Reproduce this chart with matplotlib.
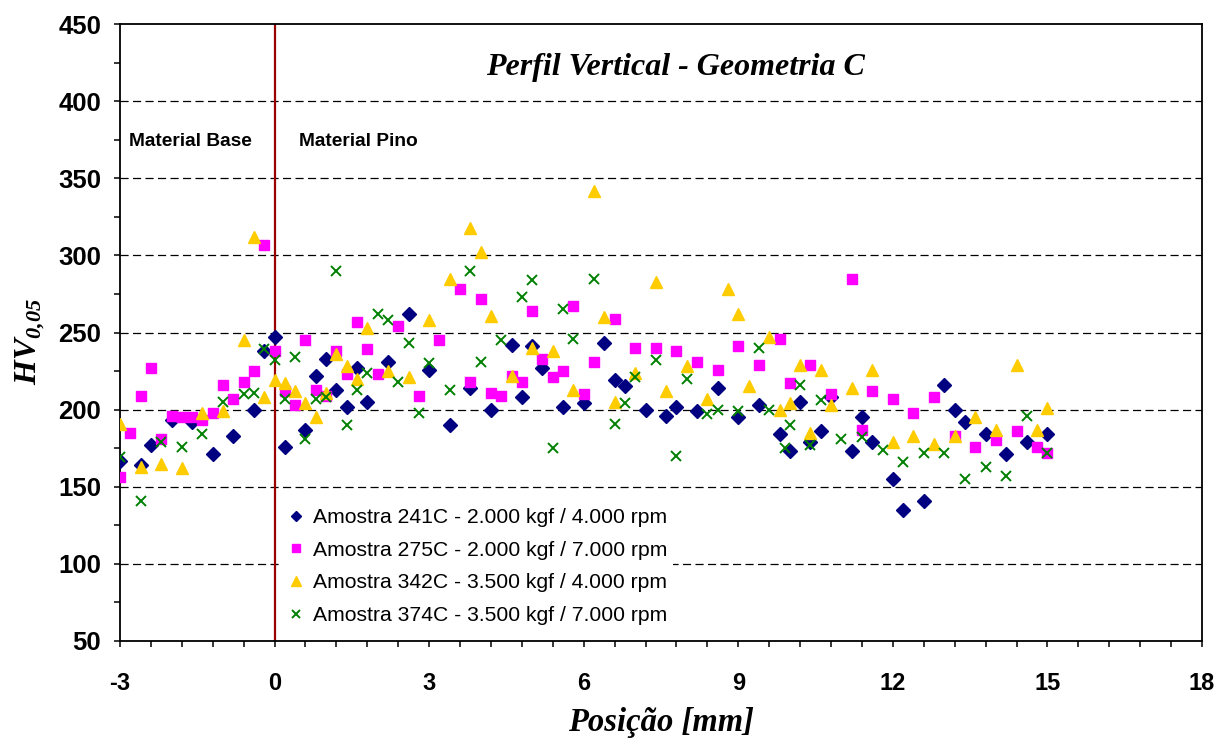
import numpy as np
import matplotlib.pyplot as plt
from matplotlib.ticker import MultipleLocator

plt.rcParams['font.family'] = ['Liberation Sans', 'DejaVu Sans']
plt.rcParams['axes.unicode_minus'] = False
plt.rcParams['mathtext.fontset'] = 'custom'
plt.rcParams['mathtext.bfit'] = 'Liberation Serif:bold:italic'
plt.rcParams['mathtext.rm'] = 'Liberation Serif'

# Amostra 241C - 2.000 kgf / 4.000 rpm
x_241 = [-3.0, -2.6, -2.4, -2.0, -1.6, -1.2, -0.8, -0.4, -0.2, 0.0, 0.2, 0.6, 0.8, 1.0, 1.2, 1.4,
         1.6, 1.8, 2.2, 2.6, 3.0, 3.4, 3.8, 4.2, 4.6, 4.8, 5.0, 5.2, 5.6, 6.0, 6.4, 6.6, 6.8,
         7.2, 7.6, 7.8, 8.2, 8.6, 9.0, 9.4, 9.8, 10.0, 10.2, 10.4, 10.6, 10.8, 11.2, 11.4, 11.6,
         12.0, 12.2, 12.6, 13.0, 13.2, 13.4, 13.8, 14.2, 14.6, 15.0]
hv_241 = [167, 164, 177, 193, 192, 171, 183, 200, 238, 247, 176, 187, 222, 233, 213, 202,
          227, 205, 231, 262, 226, 190, 214, 200, 242, 208, 241, 227, 202, 204, 243, 219, 215,
          200, 196, 202, 199, 214, 195, 203, 184, 173, 205, 179, 186, 208, 173, 195, 179,
          155, 135, 141, 216, 200, 192, 184, 171, 179, 184]

# Amostra 275C - 2.000 kgf / 7.000 rpm
x_275 = [-3.0, -2.8, -2.6, -2.4, -2.2, -2.0, -1.8, -1.6, -1.4, -1.2, -1.0, -0.8, -0.6, -0.4, -0.2,
         0.0, 0.2, 0.4, 0.6, 0.8, 1.0, 1.2, 1.4, 1.6, 1.8, 2.0, 2.4, 2.8, 3.2, 3.6, 3.8, 4.0,
         4.2, 4.4, 4.6, 4.8, 5.0, 5.2, 5.4, 5.6, 5.8, 6.0, 6.2, 6.6, 7.0, 7.4, 7.8, 8.2, 8.6,
         9.0, 9.4, 9.8, 10.0, 10.4, 10.8, 11.2, 11.4, 11.6, 12.0, 12.4, 12.8, 13.2, 13.6, 14.0,
         14.4, 14.8, 15.0]
hv_275 = [156, 185, 209, 227, 181, 196, 195, 195, 193, 198, 216, 207, 218, 225, 307,
          238, 212, 203, 245, 213, 209, 238, 223, 257, 239, 223, 254, 209, 245, 278, 218, 272,
          211, 209, 222, 218, 264, 233, 221, 225, 267, 210, 231, 259, 240, 240, 238, 231, 226,
          241, 229, 246, 217, 229, 210, 285, 187, 212, 207, 198, 208, 183, 176, 180,
          186, 176, 172]

# Amostra 342C - 3.500 kgf / 4.000 rpm
x_342 = [-3.0, -2.6, -2.2, -1.8, -1.4, -1.0, -0.6, -0.4, -0.2, 0.0, 0.2, 0.4, 0.6, 0.8, 1.0, 1.2,
         1.4, 1.6, 1.8, 2.2, 2.6, 3.0, 3.4, 3.8, 4.0, 4.2, 4.6, 5.0, 5.4, 5.8, 6.2, 6.4, 6.6,
         7.0, 7.4, 7.6, 8.0, 8.4, 8.8, 9.0, 9.2, 9.6, 9.8, 10.0, 10.2, 10.4, 10.6, 10.8, 11.2,
         11.6, 12.0, 12.4, 12.8, 13.2, 13.6, 14.0, 14.4, 14.8, 15.0]
hv_342 = [191, 163, 165, 162, 198, 199, 245, 312, 208, 219, 217, 212, 204, 195, 211, 236,
          228, 220, 253, 225, 221, 258, 285, 318, 302, 261, 222, 240, 238, 213, 342, 260, 205,
          224, 283, 212, 228, 207, 278, 262, 215, 247, 200, 204, 229, 185, 226, 203, 214,
          226, 179, 183, 178, 183, 195, 187, 229, 187, 201]

# Amostra 374C - 3.500 kgf / 7.000 rpm
x_374 = [-3.0, -2.6, -2.2, -1.8, -1.4, -1.0, -0.6, -0.4, -0.2, 0.0, 0.2, 0.4, 0.6, 0.8, 1.0, 1.2,
         1.4, 1.6, 1.8, 2.0, 2.2, 2.4, 2.6, 2.8, 3.0, 3.4, 3.8, 4.0, 4.4, 4.8, 5.0, 5.4, 5.6,
         5.8, 6.2, 6.6, 6.8, 7.0, 7.4, 7.8, 8.0, 8.4, 8.6, 9.0, 9.4, 9.6, 9.9, 10.0, 10.2, 10.4,
         10.6, 11.0, 11.4, 11.8, 12.2, 12.6, 13.0, 13.4, 13.8, 14.2, 14.6, 15.0]
hv_374 = [169, 141, 179, 176, 184, 205, 210, 211, 239, 232, 207, 234, 181, 207, 208, 290,
          190, 213, 224, 262, 258, 218, 243, 198, 230, 213, 290, 231, 245, 273, 284, 175, 265,
          246, 285, 191, 204, 221, 232, 170, 220, 197, 200, 199, 240, 200, 175, 190, 216, 177,
          206, 181, 182, 174, 166, 172, 172, 155, 163, 157, 196, 172]

labels = ['Amostra 241C - 2.000 kgf / 4.000 rpm',
          'Amostra 275C - 2.000 kgf / 7.000 rpm',
          'Amostra 342C - 3.500 kgf / 4.000 rpm',
          'Amostra 374C - 3.500 kgf / 7.000 rpm']

fig = plt.figure(figsize=(12.22, 7.45), dpi=100)
ax = fig.add_axes([120 / 1222, 1 - 641 / 745, 1082 / 1222, 617 / 745])

# horizontal dashed grid
for yv in range(100, 450, 50):
    ax.axhline(yv, color='black', lw=0.9, ls=(0, (6.5, 3.5)), zorder=1)

# interface line at x = 0
ax.axvline(0, color='#990000', lw=1.6, zorder=2)

ax.plot(x_241, hv_241, ls='none', marker='D', ms=7, color='#000080', mec='#000080', label=labels[0], zorder=3)
ax.plot(x_275, hv_275, ls='none', marker='s', ms=7, color='#FF00FF', mec='#FF00FF', label=labels[1], zorder=3)
ax.plot(x_342, hv_342, ls='none', marker='^', ms=8.5, color='#FFCC00', mec='#FFCC00', label=labels[2], zorder=3)
ax.plot(x_374, hv_374, ls='none', marker='x', ms=7.5, mew=1.4, color='#008000', label=labels[3], zorder=3)

ax.set_xlim(-3, 18)
ax.set_ylim(50, 450)
ax.xaxis.set_major_locator(MultipleLocator(3))
ax.xaxis.set_minor_locator(MultipleLocator(0.6))
ax.yaxis.set_major_locator(MultipleLocator(50))
ax.yaxis.set_minor_locator(MultipleLocator(25))
ax.tick_params(which='both', direction='out', length=4.5, width=1.1, color='black')
ax.tick_params(axis='y', which='major', pad=9, labelsize=18.5)
ax.tick_params(axis='x', which='major', pad=18, labelsize=17)
for lab in ax.get_xticklabels() + ax.get_yticklabels():
    lab.set_fontweight('bold')
for sp in ax.spines.values():
    sp.set_linewidth(1.3)

ax.text(0.513, 0.929, 'Perfil Vertical - Geometria C', transform=ax.transAxes,
        ha='center', va='center', fontsize=23, family='Liberation Serif',
        fontweight='bold', fontstyle='italic')
ax.text(-2.82, 374, 'Material Base', ha='left', va='center', fontsize=13.8, fontweight='bold')
ax.text(0.47, 374, 'Material Pino', ha='left', va='center', fontsize=13.8, fontweight='bold')

fig.text(661 / 1222, 1 - 722 / 745, 'Posição [mm]', ha='center', va='center',
         fontsize=23.5, family='Liberation Serif', fontweight='bold', fontstyle='italic')
fig.text(30 / 1222, 1 - 341 / 745, r'$\mathbfit{HV}_{\mathbfit{0{,}05}}$', ha='center', va='center',
         rotation=90, fontsize=23)

leg = ax.legend(loc='upper left', bbox_to_anchor=(0.139, 0.243), fontsize=15.2,
                frameon=True, fancybox=False, edgecolor='none', facecolor='white', framealpha=1,
                markerscale=0.8, handlelength=0.8, handletextpad=0.4, labelspacing=0.65,
                borderpad=0.3)
leg.set_zorder(5)

fig.savefig('out.png', dpi=100)
